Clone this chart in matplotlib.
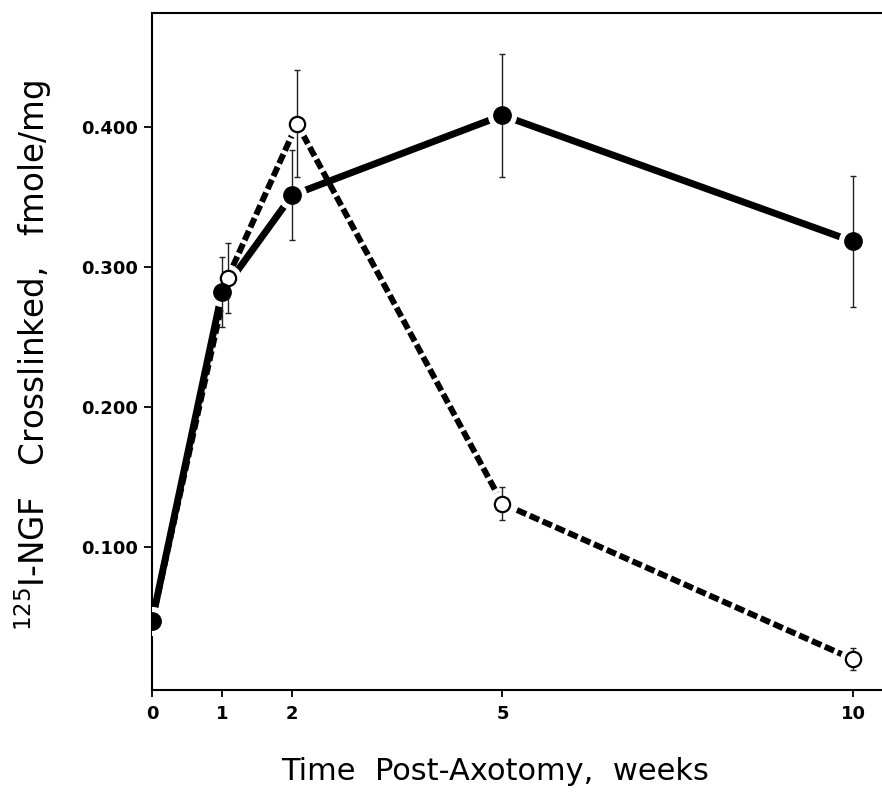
import matplotlib.pyplot as plt
import numpy as np

# filled circles, solid line
weeks_filled = [0, 1, 2, 5, 10]
ngf_filled = [0.047, 0.282, 0.351, 0.408, 0.318]
err_filled = [0.0, 0.025, 0.032, 0.044, 0.047]

# open circles, dashed line
weeks_open = [0, 1.08, 2.07, 5, 10]
ngf_open = [0.047, 0.292, 0.402, 0.131, 0.020]
err_open = [0.0, 0.025, 0.038, 0.012, 0.008]

xticks = [0, 1, 2, 5, 10]
xticklabels = ['0', '1', '2', '5', '10']
yticks = [0.1, 0.2, 0.3, 0.4]
yticklabels = ['0.100', '0.200', '0.300', '0.400']

fig = plt.figure(figsize=(8.82, 7.92), dpi=100)
ax = fig.add_axes([0.1723, 0.1288, 0.8345, 0.8548])

# lines
ax.plot(weeks_filled, ngf_filled, color='black', lw=5, solid_capstyle='butt', zorder=2)
ax.plot(weeks_open, ngf_open, color='black', lw=4.3, linestyle=(0, (1.7, 0.65)),
        dash_capstyle='butt', zorder=2)

# white halo so the lines stop short of the markers
ax.plot(weeks_filled, ngf_filled, 'o', ms=20, color='white', zorder=3)
ax.plot(weeks_open, ngf_open, 'o', ms=18, color='white', zorder=3)

# error bars
ax.errorbar(weeks_filled, ngf_filled, yerr=err_filled, fmt='none', ecolor='#222222',
            elinewidth=1.0, capsize=2.3, capthick=1.0, zorder=4)
ax.errorbar(weeks_open, ngf_open, yerr=err_open, fmt='none', ecolor='#222222',
            elinewidth=1.0, capsize=2.3, capthick=1.0, zorder=4)

# markers
ax.plot(weeks_open, ngf_open, 'o', ms=11, mfc='white', mec='black', mew=1.6, zorder=5)
ax.plot(weeks_filled, ngf_filled, 'o', ms=12.5, color='black', zorder=6)

ax.set_xlim(0, 10.5)
ax.set_ylim(-0.002, 0.481)

ax.spines['right'].set_visible(False)
for s in ['left', 'bottom', 'top']:
    ax.spines[s].set_linewidth(1.5)

ax.set_xticks(xticks)
ax.set_xticklabels(xticklabels, fontsize=13, fontweight='bold')
ax.set_yticks(yticks)
ax.set_yticklabels(yticklabels, fontsize=13, fontweight='bold')
ax.tick_params(axis='y', direction='out', length=6, width=1.3, pad=4)
ax.tick_params(axis='x', direction='out', length=5, width=1.3, pad=6)

fig.text(33 / 882, 1 - 356 / 792,
         r'$^{\mathregular{125}}$I-NGF   Crosslinked,   fmole/mg',
         rotation=90, ha='center', va='center', fontsize=23.5)
fig.text(495 / 882, 1 - 772 / 792, 'Time  Post-Axotomy,  weeks',
         ha='center', va='center', fontsize=22)

plt.savefig('out.png', dpi=100)
